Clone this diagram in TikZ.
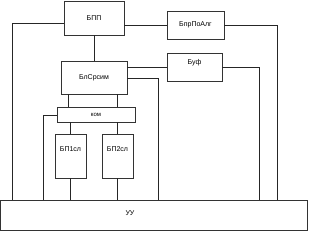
\documentclass[tikz,border=0pt]{standalone}
\usepackage{fontspec}
\setmainfont{Liberation Sans}
\usetikzlibrary{positioning}

\begin{document}
\begin{tikzpicture}[
    x=1pt, y=-1pt,
    line width=0.8pt,
    block/.style={rectangle, draw=black!80, fill=white, inner sep=0pt, font=\fontsize{7}{8}\selectfont},
    wire/.style={draw=black!85, line width=0.8pt}
]
    \useasboundingbox (0,0) rectangle (309,231);

    % --- Blocks ---
    \node[block, minimum width=60, minimum height=34] (BPP) at (94,18) {БПП};
    \node[block, minimum width=57, minimum height=28] (BprPoAlg) at (195.5,25) {БпрПоАлг};
    \node[block, minimum width=66, minimum height=33] (BlSrsim) at (94,77.5) {БлСрсим};
    \node[block, minimum width=55, minimum height=28, text height=5pt, text depth=11pt] (Buf) at (194.5,67) {Буф};
    \node[block, minimum width=78, minimum height=15, font=\fontsize{6}{7}\selectfont] (Kom) at (96,114.5) {ком};
    \node[block, minimum width=31, minimum height=44, text height=5pt, text depth=14pt] (BP1) at (70.5,156) {БП1сл};
    \node[block, minimum width=31, minimum height=44, text height=5pt, text depth=14pt] (BP2) at (117.5,156) {БП2сл};
    \node[block, minimum width=307, minimum height=30] (UU) at (154,215) {};
    \node[font=\fontsize{7}{8}\selectfont] (UUtext) at (130,213) {УУ};

    % --- Connections ---
    \draw[wire] ([yshift=-5pt]BPP.west) -| ([xshift=12pt]UU.north west);
    \draw[wire] ([yshift=-7pt]BPP.east) -- (BprPoAlg.west);
    \draw[wire] (BprPoAlg.east) -| ([xshift=277pt]UU.north west);
    \draw[wire] (BPP.south) -- (BlSrsim.north);
    \draw[wire] ([yshift=10.5pt]BlSrsim.east) -- (Buf.west);
    \draw[wire] (Buf.east) -| ([xshift=259pt]UU.north west);
    \draw[wire] ([yshift=-0.5pt]BlSrsim.east) -| ([xshift=158pt]UU.north west);
    \draw[wire] ([xshift=-26pt]BlSrsim.south) -- ([xshift=-26pt]BlSrsim.south |- Kom.north);
    \draw[wire] ([xshift=23pt]BlSrsim.south) -- ([xshift=23pt]BlSrsim.south |- Kom.north);
    \draw[wire] ([yshift=-0.5pt]Kom.west) -| ([xshift=43pt]UU.north west);
    \draw[wire] (BP1.north) -- (BP1.north |- Kom.south);
    \draw[wire] (BP2.north) -- (BP2.north |- Kom.south);
    \draw[wire] (BP1.south) -- (BP1.south |- UU.north);
    \draw[wire] (BP2.south) -- (BP2.south |- UU.north);
\end{tikzpicture}
\end{document}
